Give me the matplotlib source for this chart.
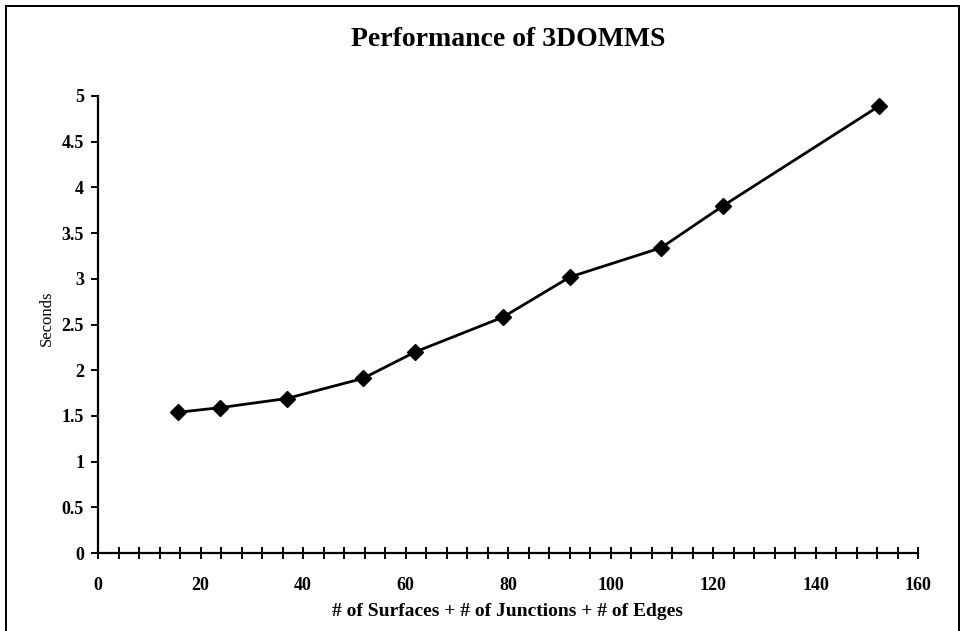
import matplotlib
matplotlib.use("Agg")
import matplotlib.pyplot as plt
from matplotlib.ticker import MultipleLocator, FixedLocator
from matplotlib.patches import Rectangle

# Problem size (surfaces + junctions + edges) vs. run time in seconds
problem_size = [15.7, 23.8, 36.8, 51.7, 61.9, 79.0, 92.1, 109.9, 122.0, 152.4]
seconds = [1.54, 1.59, 1.69, 1.91, 2.20, 2.58, 3.02, 3.34, 3.80, 4.89]

x_major = [0, 20, 40, 60, 80, 100, 120, 140, 160]
y_major = [0, 0.5, 1, 1.5, 2, 2.5, 3, 3.5, 4, 4.5, 5]
y_labels = ["0", "0.5", "1", "1.5", "2", "2.5", "3", "3.5", "4", "4.5", "5"]

title = "Performance of 3DOMMS"
x_title = "# of Surfaces + # of Junctions + # of Edges"
y_title = "Seconds"

W, H = 965, 631
fig = plt.figure(figsize=(W / 100, H / 100), dpi=100)
fig.patch.set_facecolor("white")

serif = ["Liberation Serif", "DejaVu Serif"]

# axes box in pixel terms
x0, x1 = 98, 918
y0, y1 = 553, 96
ax = fig.add_axes([x0 / W, 1 - y0 / H, (x1 - x0) / W, (y0 - y1) / H])

ax.plot(problem_size, seconds, color="black", lw=2.0,
        marker="D", markersize=8.5, markerfacecolor="black",
        markeredgecolor="black", zorder=3, clip_on=False)

ax.set_xlim(0, 160)
ax.set_ylim(0, 5)

for side in ("top", "right"):
    ax.spines[side].set_visible(False)
for side in ("left", "bottom"):
    ax.spines[side].set_linewidth(1.6)
    ax.spines[side].set_color("black")

ax.xaxis.set_major_locator(FixedLocator(x_major))
ax.xaxis.set_minor_locator(MultipleLocator(4))
ax.yaxis.set_major_locator(FixedLocator(y_major))
ax.set_yticklabels(y_labels)

ax.tick_params(axis="x", which="both", direction="inout", length=8,
               width=1.4, colors="black")
ax.tick_params(axis="x", which="major", pad=13)
ax.tick_params(axis="y", which="major", direction="out", length=5,
               width=1.4, pad=5, colors="black")

for lab in ax.get_xticklabels() + ax.get_yticklabels():
    lab.set_fontfamily(serif)
    lab.set_fontweight("bold")
    lab.set_fontsize(13)

fig.text((x0 + x1) / 2 / W, 1 - 39 / H, title, ha="center", va="center",
         family=serif, fontweight="bold", fontsize=20)
fig.text((x0 + x1) / 2 / W, 1 - 612 / H, x_title, ha="center", va="center",
         family=serif, fontweight="bold", fontsize=14)
fig.text(47 / W, 1 - 318 / H, y_title, ha="center", va="center",
         rotation=90, family=serif, fontsize=12)

# outer frame around the chart area
fig.patches.append(Rectangle((6 / W, -0.05), (959 - 6) / W, 1.05 - 6 / H,
                             transform=fig.transFigure, fill=False,
                             edgecolor="black", lw=1.4))

fig.savefig("out.png", dpi=100, facecolor="white")
